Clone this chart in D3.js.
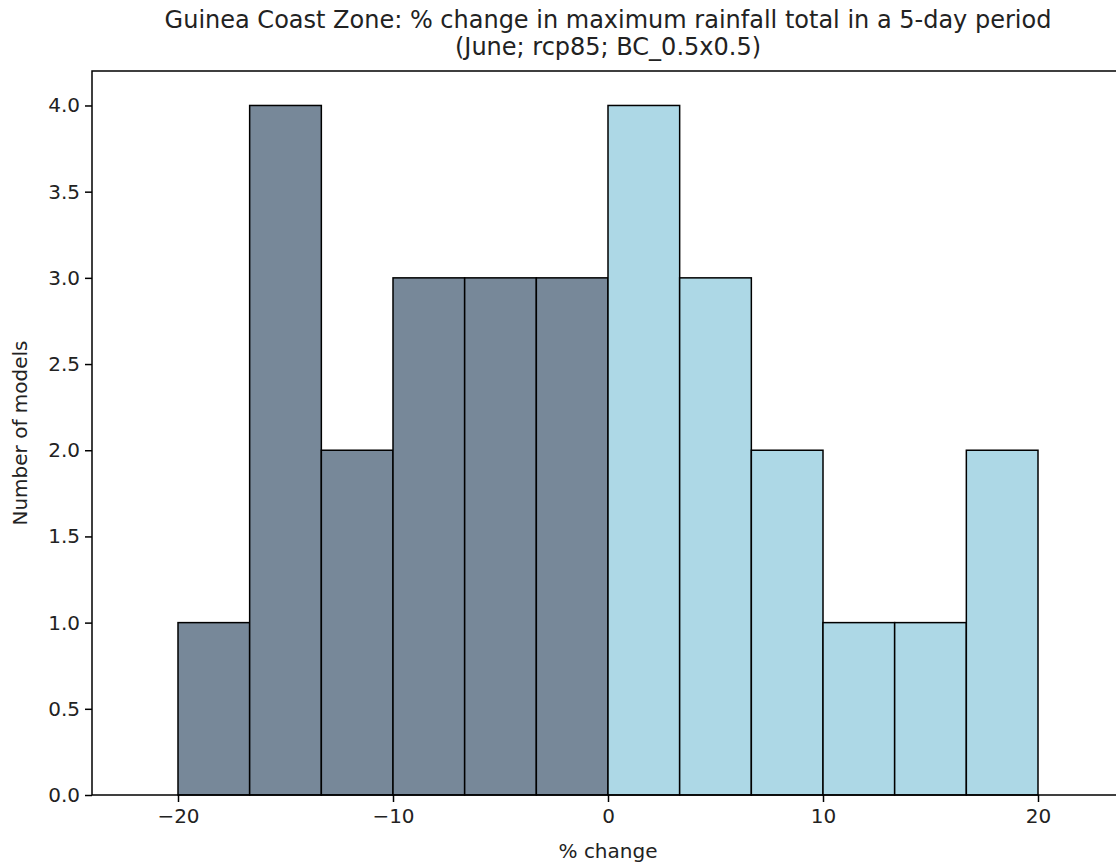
<!DOCTYPE html>
<html><head><meta charset="utf-8">
<script src="https://cdn.jsdelivr.net/npm/d3@7"></script>
<style>body{margin:0;background:#fff;} svg{display:block;overflow:hidden;} text{font-family:"DejaVu Sans",sans-serif;fill:#222;}</style>
</head><body>
<svg id="c" width="1116" height="865"></svg>
<script>
const binEdges = [-20, -16.667, -13.333, -10, -6.667, -3.333, 0, 3.333, 6.667, 10, 13.333, 16.667, 20];
const counts = [1, 4, 2, 3, 3, 3, 4, 3, 2, 1, 1, 2];
const xTicks = [-20, -10, 0, 10, 20];
const yTicks = [0, 0.5, 1.0, 1.5, 2.0, 2.5, 3.0, 3.5, 4.0];
const titleLines = ["Guinea Coast Zone: % change in maximum rainfall total in a 5-day period", "(June; rcp85; BC_0.5x0.5)"];

const svg = d3.select("#c");
const L = 92, R = 1124, T = 71, B = 795;
const x = d3.scaleLinear().domain([-24, 24]).range([L, R]);
const y = d3.scaleLinear().domain([0, 4.2]).range([B, T]);

const bins = counts.map((c, i) => ({x0: binEdges[i], x1: binEdges[i+1], c}));
svg.append("g").selectAll("rect").data(bins).join("rect")
  .attr("x", d => x(d.x0)).attr("width", d => x(d.x1) - x(d.x0))
  .attr("y", d => y(d.c)).attr("height", d => y(0) - y(d.c))
  .attr("fill", d => d.x1 <= 0 ? "#778899" : "#add8e6")
  .attr("stroke", "#000").attr("stroke-width", 1.5);

const fmtMinus = v => (v < 0 ? "\u2212" + Math.abs(v) : String(v));
const xAxis = svg.append("g").attr("transform", `translate(0,${B})`)
  .call(d3.axisBottom(x).tickValues(xTicks).tickFormat(fmtMinus).tickSizeOuter(0).tickSize(7).tickPadding(7));
const yAxis = svg.append("g").attr("transform", `translate(${L},0)`)
  .call(d3.axisLeft(y).tickValues(yTicks).tickFormat(d3.format(".1f")).tickSizeOuter(0).tickSize(7).tickPadding(5));
[xAxis, yAxis].forEach(a => {
  a.selectAll("text").style("font-size", "20px").style("font-family", "DejaVu Sans").attr("fill", "#222");
  a.selectAll("line").attr("stroke", "#000").attr("stroke-width", 1.5);
  a.select(".domain").remove();
});
// spines
svg.append("rect").attr("x", L).attr("y", T).attr("width", R - L).attr("height", B - T)
  .attr("fill", "none").attr("stroke", "#000").attr("stroke-width", 1.5);

const cx = (L + R) / 2;
svg.append("g").selectAll("text").data(titleLines).join("text")
  .attr("x", cx).attr("y", (d, i) => 28 + i * 27).attr("text-anchor", "middle")
  .style("font-size", "24px").text(d => d);
svg.append("text").attr("x", cx).attr("y", 858).attr("text-anchor", "middle")
  .style("font-size", "20px").text("% change");
svg.append("text").attr("transform", `translate(27,${(T + B) / 2}) rotate(-90)`).attr("text-anchor", "middle")
  .style("font-size", "20px").text("Number of models");
</script>
</body></html>
